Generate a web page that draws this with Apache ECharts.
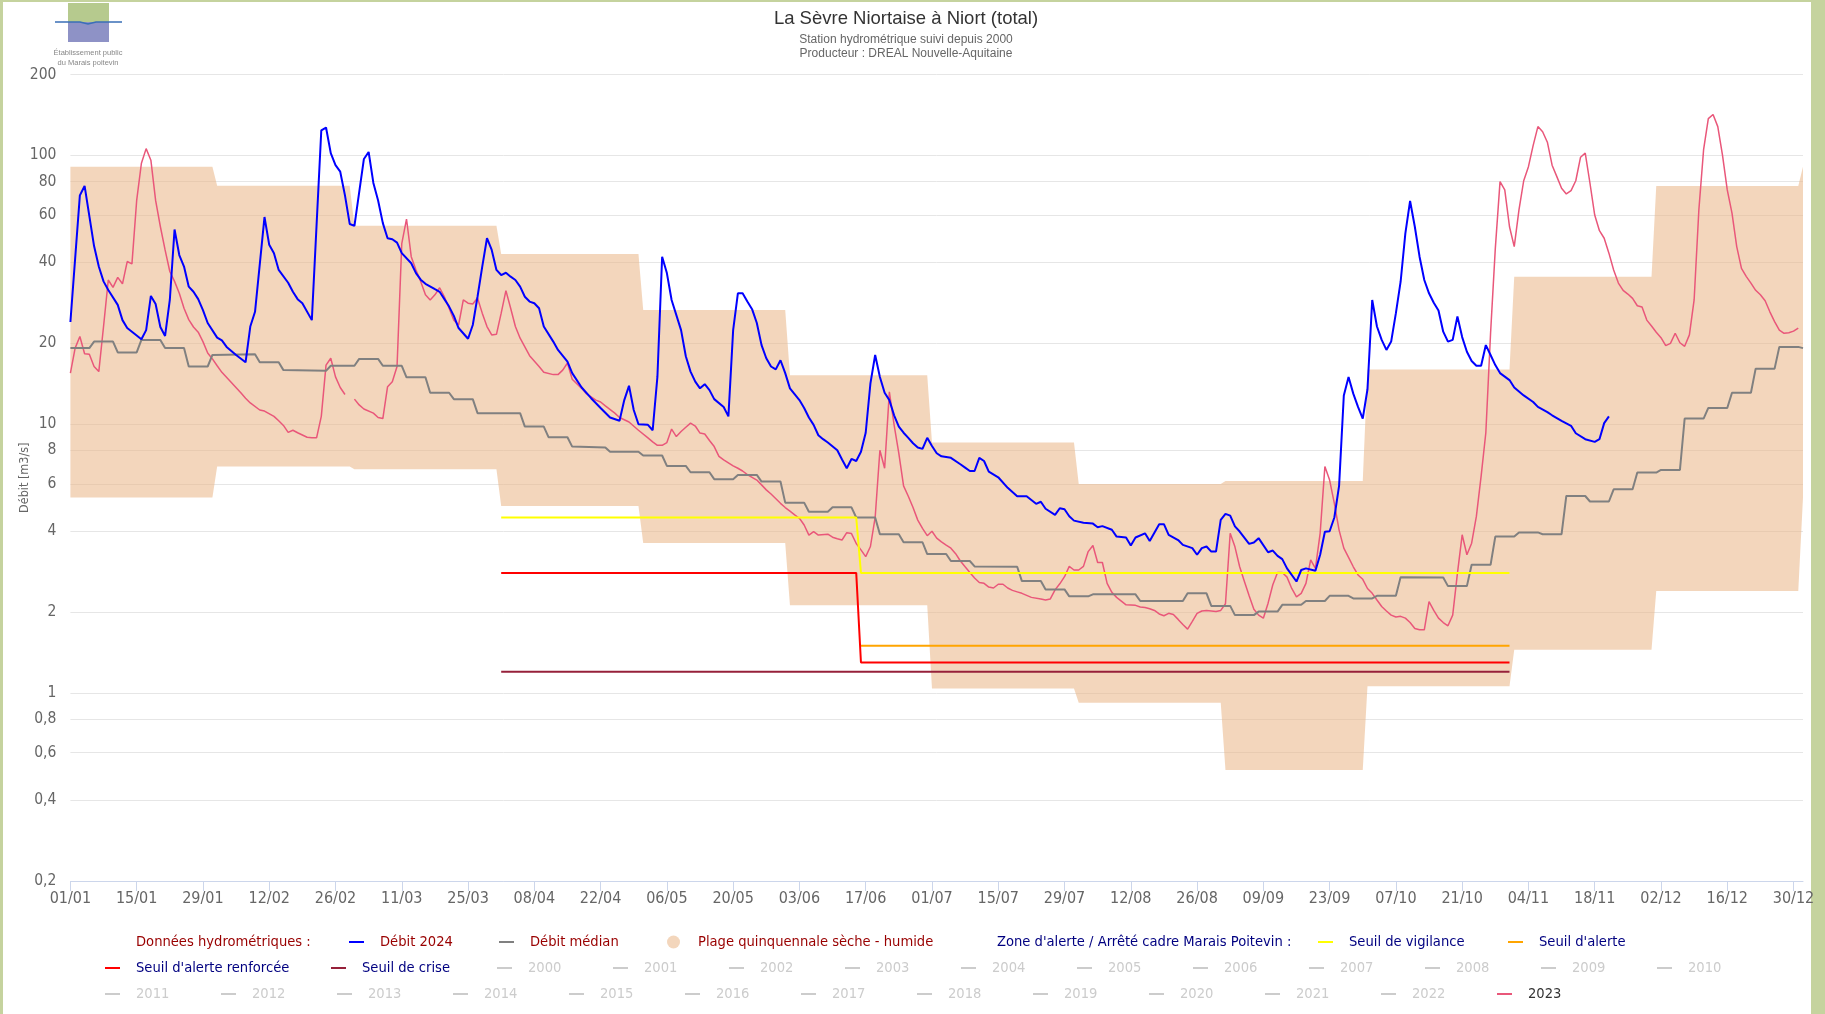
<!DOCTYPE html>
<html><head><meta charset="utf-8">
<script src="https://cdn.jsdelivr.net/npm/echarts@6/dist/echarts.min.js"></script>
<style>html,body{margin:0;padding:0;background:#fff;}#c{width:1825px;height:1014px;}</style>
</head><body><div id="c"></div>
<script>
// ---- DATA (day 0 = 01/01/2024) ----
const debit2024 = [[0,24],[2,71],[3,77],[5,46],[6,38.6],[7,34],[8,31.6],[10,27.8],[11,24.4],[12,22.8],[15,20.7],[16,22.4],[17,30],[18,28],[19,23],[20,21.3],[21,29],[22,53],[23,42.6],[24,38.6],[25,32.5],[26,31.1],[27,29.2],[28,26.6],[29,23.8],[31,21],[32,20.5],[33,19.4],[35,18.1],[37,17],[38,23.1],[39,26.2],[41,59],[42,46.5],[43,43.3],[44,37.5],[46,33.6],[47,31.1],[48,29.2],[49,28.2],[51,24.4],[53,124],[54,127],[55,102],[56,92],[57,87],[58,71],[59,55.6],[60,54.7],[62,97],[63,103],[64,79],[65,68],[66,56],[67,49.2],[68,48.8],[69,47.4],[70,43.3],[72,39.7],[73,36.5],[74,34.5],[75,33.3],[77,31.8],[78,31.1],[79,29.2],[80,27.4],[81,25.3],[82,22.8],[84,20.8],[85,23.4],[86,29.8],[87,38.6],[88,49.2],[89,44.5],[90,37.5],[91,35.9],[92,36.6],[93,35.4],[94,34.4],[95,32.5],[96,29.8],[97,28.6],[98,28.2],[99,27],[100,23.1],[102,20.3],[103,18.9],[105,17.1],[106,15.5],[108,13.7],[110,12.5],[112,11.5],[114,10.6],[116,10.3],[117,12.3],[118,13.9],[119,11.3],[120,10],[122,9.95],[123,9.5],[124,15],[125,42],[126,36.5],[127,29],[129,22.4],[130,17.9],[131,15.7],[132,14.4],[133,13.6],[134,14.1],[135,13.4],[136,12.4],[138,11.6],[139,10.7],[140,22.4],[141,30.7],[142,30.7],[143,28.6],[144,26.8],[145,23.8],[146,19.7],[147,17.6],[148,16.4],[149,16],[150,17.3],[151,15.5],[152,13.6],[154,12.3],[155,11.5],[156,10.6],[157,9.95],[158,9.1],[159,8.8],[160,8.55],[162,8],[163,7.4],[164,6.86],[165,7.43],[166,7.3],[167,7.9],[168,9.3],[169,14.2],[170,18.1],[171,15],[172,13.1],[173,12.3],[174,10.8],[175,9.8],[176,9.3],[177,8.9],[178,8.5],[179,8.2],[180,8.1],[181,8.9],[182,8.3],[183,7.8],[184,7.6],[186,7.5],[188,7.1],[189,6.9],[190,6.7],[191,6.7],[192,7.5],[193,7.3],[194,6.67],[196,6.35],[198,5.8],[200,5.4],[202,5.4],[204,5.06],[205,5.15],[206,4.85],[208,4.6],[209,4.87],[210,4.83],[211,4.55],[212,4.38],[214,4.3],[216,4.27],[217,4.14],[218,4.18],[220,4.05],[221,3.82],[223,3.79],[224,3.54],[225,3.79],[227,3.93],[228,3.68],[230,4.25],[231,4.25],[232,3.88],[234,3.71],[235,3.56],[237,3.46],[238,3.27],[239,3.46],[240,3.51],[241,3.36],[242,3.36],[243,4.41],[244,4.64],[245,4.57],[246,4.17],[247,3.99],[249,3.59],[250,3.63],[251,3.77],[253,3.34],[254,3.39],[255,3.24],[256,3.15],[257,2.91],[259,2.6],[260,2.87],[261,2.91],[263,2.85],[264,3.27],[265,3.98],[266,4],[267,4.5],[268,5.9],[269,12.8],[270,15],[271,13],[272,11.6],[273,10.5],[274,13.5],[275,29],[276,23.1],[277,20.6],[278,18.9],[279,20.3],[280,25.9],[281,33.9],[282,51.3],[283,67.7],[284,54.3],[285,42],[286,34.4],[287,30.7],[288,28.3],[289,26.5],[290,22.1],[291,20.3],[292,20.6],[293,25.2],[294,21.1],[295,18.6],[296,17.2],[297,16.5],[298,16.5],[299,19.7],[300,18.1],[301,16.6],[302,15.5],[304,14.6],[305,13.7],[307,12.8],[309,12.1],[310,11.6],[312,11.1],[313,10.8],[315,10.3],[317,9.87],[318,9.26],[320,8.8],[322,8.6],[323,8.8],[324,10.1],[325,10.7]];

const debitMedian = [[0,19.2],[4,19.2],[5,20.3],[9,20.3],[10,18.5],[14,18.5],[15,20.6],[19,20.6],[20,19.2],[24,19.2],[25,16.4],[29,16.4],[30,18.1],[39,18.2],[40,17],[44,17],[45,15.9],[54,15.8],[55,16.5],[60,16.5],[61,17.5],[65,17.5],[66,16.5],[70,16.5],[71,14.95],[75,14.95],[76,13.1],[80,13.1],[81,12.4],[85,12.4],[86,11],[95,11],[96,9.8],[100,9.8],[101,8.95],[105,8.95],[106,8.26],[113,8.2],[114,7.9],[120,7.9],[121,7.65],[125,7.65],[126,7.0],[130,7.0],[131,6.63],[135,6.63],[136,6.25],[140,6.25],[141,6.48],[145,6.48],[146,6.12],[150,6.12],[151,5.11],[155,5.11],[156,4.73],[160,4.73],[161,4.91],[165,4.91],[166,4.5],[170,4.5],[171,3.9],[175,3.9],[176,3.64],[180,3.64],[181,3.29],[185,3.29],[186,3.1],[190,3.1],[191,2.96],[200,2.95],[201,2.61],[205,2.61],[206,2.43],[210,2.43],[211,2.29],[215,2.29],[216,2.33],[225,2.33],[226,2.2],[235,2.2],[236,2.35],[240,2.35],[241,2.11],[245,2.11],[246,1.95],[250,1.95],[251,2.01],[255,2.01],[256,2.13],[260,2.13],[261,2.2],[265,2.2],[266,2.3],[270,2.3],[271,2.25],[275,2.25],[276,2.3],[280,2.3],[281,2.7],[290,2.69],[291,2.5],[295,2.5],[296,3.0],[300,3.0],[301,3.82],[305,3.82],[306,3.96],[310,3.96],[311,3.9],[315,3.9],[316,5.41],[320,5.41],[321,5.16],[325,5.16],[326,5.73],[330,5.73],[331,6.61],[335,6.61],[336,6.76],[340,6.76],[341,10.5],[345,10.5],[346,11.5],[350,11.5],[351,13.1],[355,13.1],[356,16.1],[360,16.1],[361,19.4],[365,19.4],[366,19.2]];

const debit2023 = [[0,15.5],[1,19.2],[2,21.2],[3,18.3],[4,18.2],[5,16.4],[6,15.7],[7,23.1],[8,34.4],[9,32.3],[10,35.2],[11,33.3],[12,40.3],[13,39.5],[14,68],[15,93.5],[16,106],[17,96],[18,68],[19,54.4],[20,44.5],[21,37],[22,34],[23,30.7],[24,27],[25,24.5],[26,23],[27,22],[28,20.3],[29,18.4],[30,17.5],[31,16.5],[32,15.6],[34,14.3],[36,13.1],[37,12.5],[38,12],[40,11.3],[41,11.2],[43,10.7],[44,10.3],[45,9.9],[46,9.33],[47,9.5],[48,9.3],[50,8.95],[51,8.9],[52,8.9],[53,10.7],[54,16.6],[55,17.6],[56,15],[57,13.7],[58,12.9],[59,null],[60,12.4],[61,11.8],[62,11.4],[64,11],[65,10.6],[66,10.5],[67,13.8],[68,14.4],[69,16.4],[70,47],[71,58],[72,42],[73,37.5],[74,34],[75,30.3],[76,29],[77,30.3],[78,32.2],[79,29.8],[80,27],[81,24.4],[82,23.4],[83,29],[84,28.2],[85,28],[86,29.5],[87,25.9],[88,23.1],[89,21.5],[90,21.6],[91,25.9],[92,31.4],[93,27],[94,23.1],[95,20.9],[96,19.4],[97,18],[99,16.4],[100,15.6],[102,15.3],[103,15.3],[104,15.9],[105,16.9],[106,14.7],[108,13.6],[109,13],[111,12.3],[112,12.1],[113,11.7],[115,11],[116,10.6],[118,10.2],[120,9.5],[122,8.9],[123,8.6],[124,8.35],[125,8.35],[126,8.55],[127,9.6],[128,9.0],[129,9.4],[130,9.75],[131,10.1],[132,9.85],[133,9.27],[134,9.2],[135,8.7],[136,8.26],[137,7.6],[138,7.37],[140,7.0],[141,6.86],[142,6.7],[143,6.5],[145,6.2],[146,5.95],[147,5.7],[148,5.5],[150,5.08],[151,4.9],[152,4.75],[153,4.6],[154,4.47],[155,4.22],[156,3.87],[157,3.99],[158,3.87],[160,3.9],[161,3.8],[162,3.75],[163,3.71],[164,3.95],[165,3.92],[166,3.6],[167,3.41],[168,3.22],[169,3.51],[170,4.5],[171,8.0],[172,6.86],[173,13.2],[174,9.95],[175,7.8],[176,5.9],[177,5.4],[178,4.9],[179,4.4],[180,4.1],[181,3.85],[182,4.0],[183,3.77],[184,3.65],[185,3.55],[186,3.46],[187,3.3],[188,3.1],[189,2.95],[190,2.81],[191,2.68],[192,2.58],[193,2.56],[194,2.48],[195,2.46],[196,2.54],[197,2.54],[198,2.46],[199,2.41],[200,2.38],[201,2.35],[203,2.27],[205,2.24],[206,2.22],[207,2.24],[208,2.42],[209,2.55],[210,2.71],[211,2.96],[212,2.87],[213,2.87],[214,2.96],[215,3.36],[216,3.54],[217,3.06],[218,3.06],[219,2.56],[220,2.37],[221,2.27],[222,2.2],[223,2.13],[225,2.12],[226,2.09],[227,2.08],[228,2.06],[229,2.03],[230,1.97],[231,1.94],[232,1.98],[233,1.96],[234,1.88],[235,1.8],[236,1.73],[237,1.85],[238,1.98],[239,2.02],[240,2.03],[242,2.01],[243,2.03],[244,2.15],[245,3.93],[246,3.5],[247,2.95],[248,2.6],[249,2.3],[250,2.05],[251,1.95],[252,1.9],[253,2.16],[254,2.53],[255,2.81],[256,2.81],[257,2.7],[258,2.45],[259,2.28],[260,2.35],[261,2.56],[262,3.13],[263,2.91],[264,3.93],[265,6.96],[266,6.2],[267,5.08],[268,4.04],[269,3.46],[270,3.2],[271,2.95],[272,2.75],[273,2.65],[274,2.45],[275,2.35],[276,2.22],[277,2.1],[278,2.02],[279,1.95],[280,1.92],[281,1.93],[282,1.9],[283,1.83],[284,1.74],[285,1.72],[286,1.72],[287,2.19],[288,2.03],[289,1.9],[290,1.83],[291,1.78],[292,1.95],[293,2.79],[294,3.88],[295,3.27],[296,3.61],[297,4.54],[298,6.4],[299,9.3],[300,21.8],[301,45],[302,79.9],[303,74.4],[304,54.3],[305,45.8],[306,62.7],[307,80.5],[308,90.8],[309,109],[310,128],[311,122.5],[312,112],[313,92],[314,83.4],[315,75.5],[316,71.9],[317,74],[318,80.5],[319,98.4],[320,102],[321,78.8],[322,60],[323,52.5],[324,49.2],[325,43.3],[326,37.5],[327,33.5],[328,31.5],[329,30.5],[330,29.4],[331,27.6],[332,27.3],[333,24.4],[334,23.2],[335,22],[336,21],[337,19.6],[338,20],[339,21.8],[340,20.1],[341,19.5],[342,21.5],[343,29],[344,62.7],[345,105],[346,137],[347,142],[348,128],[349,100],[350,74.4],[351,61],[352,45.8],[353,38],[354,35.5],[355,33.5],[356,31.5],[357,30.3],[358,28.8],[359,26.2],[360,24.1],[361,22.4],[362,21.8],[363,21.9],[364,22.2],[365,22.8]];

// five-year dry/wet band, one value per month (Jan..Dec)
const monthStart = [0,31,60,91,121,152,182,213,244,274,305,335,366];
const bandLow  = [5.34,6.96,6.8,4.97,3.62,2.12,1.04,0.92,0.518,1.06,1.45,2.4];
const bandHigh = [90.8,77.2,54.7,43.0,26.6,15.2,8.55,6.0,6.15,16.0,35.4,77.0];

const seuilVigilance = [[91,4.5],[166,4.5],[167,2.8],[304,2.8]];
const seuilAlerte    = [[167,1.5],[304,1.5]];
const seuilRenforce  = [[91,2.8],[166,2.8],[167,1.3],[304,1.3]];
const seuilCrise     = [[91,1.2],[304,1.2]];

const yTicks = [0.2,0.4,0.6,0.8,1,2,4,6,8,10,20,40,60,80,100,200];
const hiddenYears = ['2000','2001','2002','2003','2004','2005','2006','2007','2008','2009','2010','2011','2012','2013','2014','2015','2016','2017','2018','2019','2020','2021','2022'];

// ---- build ----
const NARROW = "'Liberation Sans Narrow','DejaVu Sans Condensed','Liberation Sans',sans-serif";
const BAND = 'rgba(233,180,133,0.55)';
const bandData = [];
for (let m = 0; m < 12; m++) {
  bandData.push([monthStart[m], bandLow[m], bandHigh[m]]);
  bandData.push([monthStart[m+1]-1, bandLow[m], bandHigh[m]]);
}
bandData.push([366, bandLow[0], bandHigh[0]]);

const xTicks = [];
for (let d = 0; d <= 364; d += 14) xTicks.push(d);
function dayLabel(v) {
  const dt = new Date(Date.UTC(2024, 0, 1 + Math.round(v)));
  return String(dt.getUTCDate()).padStart(2,'0') + '/' + String(dt.getUTCMonth()+1).padStart(2,'0');
}

const RED_T = '#990000', BLUE_T = '#000080';
const rowY = [942, 968, 994];
const legendLayout = [
  ['Données hydrométriques :', 105, 0, RED_T, 'none'],
  ['Débit 2024', 349, 0, RED_T, 'rect'],
  ['Débit médian', 499, 0, RED_T, 'rect'],
  ['Plage quinquennale sèche - humide', 667, 0, RED_T, 'circle'],
  ["Zone d'alerte / Arrêté cadre Marais Poitevin :", 966, 0, BLUE_T, 'none'],
  ['Seuil de vigilance', 1318, 0, BLUE_T, 'rect'],
  ["Seuil d'alerte", 1508, 0, BLUE_T, 'rect'],
  ["Seuil d'alerte renforcée", 105, 1, BLUE_T, 'rect'],
  ['Seuil de crise', 331, 1, BLUE_T, 'rect']
];
hiddenYears.forEach((y, i) => {
  if (i < 11) legendLayout.push([y, 497 + 116*i, 1, '#333', 'rect']);
  else legendLayout.push([y, 105 + 116*(i-11), 2, '#333', 'rect']);
});
legendLayout.push(['2023', 105 + 116*12, 2, '#333', 'rect']);

const legends = legendLayout.map(([name, x, row, col, icon]) => {
  const circ = icon === 'circle';
  const sel = {}; sel[name] = hiddenYears.indexOf(name) < 0;
  return {
    left: x, top: rowY[row] - 10, padding: 0, itemGap: 0,
    icon: icon, itemWidth: circ ? 13 : 15, itemHeight: circ ? 13 : 2,
    inactiveColor: '#cccccc', selected: sel, data: [name],
    textStyle: {color: col, fontFamily: NARROW, fontSize: 14.6, lineHeight: 20, padding: [0,0,0, circ ? 13 : 11]}
  };
});

function lineSeries(name, data, color, width, extra) {
  return Object.assign({
    name: name, type: 'line', data: data, symbol: 'none', color: color,
    lineStyle: {color: color, width: width}, animation: false, connectNulls: false
  }, extra || {});
}

const series = [
  lineSeries('2023', debit2023, '#e9577a', 1.5),
  {
    name: 'Plage quinquennale sèche - humide', type: 'custom', data: bandData,
    itemStyle: {color: BAND}, silent: true,
    renderItem: function (params, api) {
      if (params.dataIndexInside !== 0) return null;
      const up = bandData.map(d => api.coord([d[0], d[2]]));
      const lo = bandData.map(d => api.coord([d[0], d[1]])).reverse();
      return {type: 'polygon', shape: {points: up.concat(lo)}, style: {fill: BAND}};
    }
  },
  lineSeries('Débit médian', debitMedian, '#808080', 2),
  lineSeries('Seuil de vigilance', seuilVigilance, '#ffff00', 2),
  lineSeries("Seuil d'alerte", seuilAlerte, '#ffa500', 2),
  lineSeries("Seuil d'alerte renforcée", seuilRenforce, '#ff0000', 2),
  lineSeries('Seuil de crise', seuilCrise, '#96203a', 2),
  lineSeries('Débit 2024', debit2024, '#0000ff', 2),
  lineSeries('Données hydrométriques :', [], '#ffffff', 0),
  lineSeries("Zone d'alerte / Arrêté cadre Marais Poitevin :", [], '#ffffff', 0)
];
hiddenYears.forEach(y => series.push(lineSeries(y, [], '#cccccc', 1)));

const chart = echarts.init(document.getElementById('c'), null, {renderer: 'canvas'});
chart.setOption({
  animation: false,
  backgroundColor: '#ffffff',
  title: {
    text: 'La Sèvre Niortaise à Niort (total)',
    subtext: 'Station hydrométrique suivi depuis 2000\nProducteur : DREAL Nouvelle-Aquitaine',
    left: 906, top: 9, textAlign: 'center', itemGap: 5, padding: 0,
    textStyle: {fontFamily: "'Liberation Sans',sans-serif", fontSize: 18.5, fontWeight: 'normal', color: '#333'},
    subtextStyle: {fontFamily: "'Liberation Sans',sans-serif", fontSize: 12, color: '#666', lineHeight: 14}
  },
  grid: {left: 70.4, right: 22, top: 74.5, bottom: 133, containLabel: false, outerBoundsMode: 'none'},
  xAxis: {
    type: 'value', min: 0, max: 366,
    axisLine: {show: true, lineStyle: {color: '#ccd6eb', width: 1}},
    axisTick: {show: true, length: 10, customValues: xTicks, lineStyle: {color: '#ccd6eb'}},
    axisLabel: {customValues: xTicks, formatter: dayLabel, color: '#666', fontFamily: NARROW, fontSize: 16, margin: 10},
    splitLine: {show: false}
  },
  yAxis: {
    type: 'log', logBase: 10, min: 0.2, max: 200,
    name: 'Débit [m3/s]', nameLocation: 'middle', nameGap: 39, nameMoveOverlap: false,
    nameTextStyle: {color: '#666', fontFamily: NARROW, fontSize: 12.5},
    axisLine: {show: false},
    axisTick: {show: false, customValues: yTicks},
    axisLabel: {customValues: yTicks, color: '#666', fontFamily: NARROW, fontSize: 15.5, margin: 14,
      formatter: v => String(Number(v.toPrecision(6))).replace('.', ',')},
    splitLine: {show: true, lineStyle: {color: '#e6e6e6', width: 1}}
  },
  legend: legends,
  series: series,
  graphic: [
    {type: 'rect', shape: {x: 0, y: 0, width: 3, height: 1014}, style: {fill: '#c5d39e'}, silent: true},
    {type: 'rect', shape: {x: 0, y: 0, width: 1825, height: 2}, style: {fill: '#c5d39e'}, silent: true},
    {type: 'rect', shape: {x: 1811, y: 0, width: 14, height: 1014}, style: {fill: '#c5d39e'}, silent: true},
    {type: 'rect', shape: {x: 68, y: 3, width: 41, height: 19}, style: {fill: '#b6ca8e'}, silent: true},
    {type: 'rect', shape: {x: 68, y: 22, width: 41, height: 20}, style: {fill: '#8e92c6'}, silent: true},
    {type: 'polyline', shape: {points: [[55,22],[80,22],[88,24],[96,22],[122,22]]}, style: {stroke: '#3a6fb7', lineWidth: 1.5, fill: null}, silent: true},
    {type: 'text', x: 88, y: 53, style: {text: 'Établissement public', fill: '#888', font: "7.5px 'Liberation Sans', sans-serif", textAlign: 'center', textVerticalAlign: 'middle'}, silent: true},
    {type: 'text', x: 88, y: 63, style: {text: 'du Marais poitevin', fill: '#888', font: "7.5px 'Liberation Sans', sans-serif", textAlign: 'center', textVerticalAlign: 'middle'}, silent: true}
  ]
});
</script>
</body></html>
